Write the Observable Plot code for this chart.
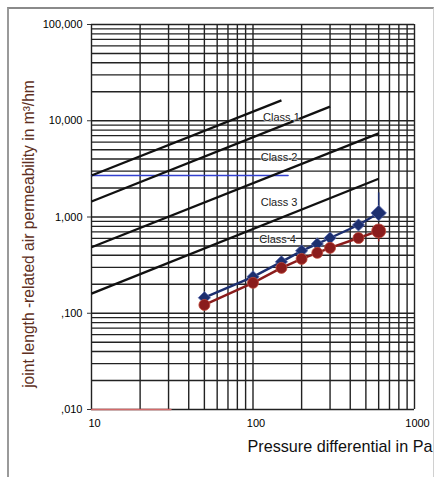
<!DOCTYPE html>
<html>
<head>
<meta charset="utf-8">
<script src="https://cdn.jsdelivr.net/npm/d3@7"></script>
<script src="https://cdn.jsdelivr.net/npm/@observablehq/plot@0.6"></script>
<style>
  html, body { margin: 0; padding: 0; background: #fff; }
  #wrap { position: relative; width: 435px; height: 477px; overflow: hidden; }
  #frame { position: absolute; left: 7px; top: 7px; width: 424px; height: 480px;
           border-left: 2px solid #9a9a9a; border-top: 2px solid #8a8a8a; border-right: 1px solid #d0d0d0; }
  svg { position: absolute; left: 0; top: 0; }
</style>
</head>
<body>
<div id="wrap"><div id="frame"></div></div>
<script>
// Measured data (pressure in Pa, permeability in m³/hm)
const pressures = [50, 100, 150, 200, 250, 300, 450, 600];
const blueValues = [0.145, 0.239, 0.342, 0.445, 0.525, 0.605, 0.826, 1.10];
const redValues  = [0.122, 0.207, 0.296, 0.367, 0.424, 0.478, 0.605, 0.716];

// Class limit lines (start/end points)
const classNames  = ["Class 1", "Class 2", "Class 3", "Class 4"];
const classStartP = [10, 10, 10, 10];
const classStartV = [2.7, 1.45, 0.485, 0.16];
const classEndP   = [150, 300, 600, 600];
const classEndV   = [16.3, 14.0, 7.4, 2.5];
const labelP      = [150, 145, 145, 142];
const labelV      = [10.9, 4.19, 1.43, 0.59];

// Grid / ticks
const xGrid = [10, 20, 30, 40, 50, 60, 70, 80, 90, 100, 200, 300, 400, 500, 600, 700, 800, 900, 1000];
const yGrid = [0.01, 0.02, 0.03, 0.04, 0.05, 0.06, 0.07, 0.08, 0.09,
               0.1, 0.2, 0.3, 0.4, 0.5, 0.6, 0.7, 0.8, 0.9,
               1, 2, 3, 4, 5, 6, 7, 8, 9,
               10, 20, 30, 40, 50, 60, 70, 80, 90, 100];
const xTicks = [10, 100, 1000];
const xTickLabels = ["10", "100", "1000"];
const yTicks = [0.01, 0.1, 1, 10, 100];
const yTickLabels = [",010", ",100", "1,000", "10,000", "100,000"];

// Stray marks visible on the scan
const blueRefP = [10, 165];
const blueRefV = [2.7, 2.7];
const redRefP = [10, 31];
const redRefV = [0.01, 0.01];
const lastP = 600;
const blueBarTop = 1.78;
const redBarBottom = 0.55;

const classSegments = classNames.map((c, i) => ({
  name: c, x1: classStartP[i], y1: classStartV[i], x2: classEndP[i], y2: classEndV[i]
}));
const classLabels = classNames.map((c, i) => ({name: c, x: labelP[i], y: labelV[i]}));
const blue = pressures.map((p, i) => ({p, v: blueValues[i]}));
const red = pressures.map((p, i) => ({p, v: redValues[i]}));
const blueMain = blue.slice(0, -1), blueLast = blue.slice(-1);
const redMain = red.slice(0, -1), redLast = red.slice(-1);

const blueColor = "#1d2f6f";
const redColor = "#8a1c1c";

const chart = Plot.plot({
  width: 435,
  height: 477,
  marginLeft: 91,
  marginRight: 21,
  marginTop: 24,
  marginBottom: 68,
  style: {fontFamily: "'Liberation Sans', Arial, sans-serif", background: "transparent"},
  x: {type: "log", domain: [10, 1000]},
  y: {type: "log", domain: [0.01, 100]},
  marks: [
    Plot.ruleX(xGrid, {stroke: "#222", strokeWidth: 1.4}),
    Plot.ruleY(yGrid, {stroke: "#222", strokeWidth: 1.4}),
    Plot.line(blueRefP.map((p, i) => ({p, v: blueRefV[i]})), {x: "p", y: "v", stroke: "#3340d0", strokeWidth: 1.4}),
    Plot.line(redRefP.map((p, i) => ({p, v: redRefV[i]})), {x: "p", y: "v", stroke: "#d46a6a", strokeWidth: 1.5}),
    Plot.link(classSegments, {x1: "x1", y1: "y1", x2: "x2", y2: "y2", stroke: "#111", strokeWidth: 2.3}),
    Plot.text(classLabels, {x: "x", y: "y", text: "name", fontSize: 11, fill: "#222",
      stroke: "white", strokeWidth: 2, strokeOpacity: 0.6, paintOrder: "stroke"}),
    Plot.ruleX([lastP], {y1: blueValues[blueValues.length - 1], y2: blueBarTop, stroke: blueColor, strokeWidth: 1.5}),
    Plot.ruleX([lastP], {y1: redValues[redValues.length - 1], y2: redBarBottom, stroke: redColor, strokeWidth: 1.5}),
    Plot.line(blue, {x: "p", y: "v", stroke: blueColor, strokeWidth: 2.4}),
    Plot.line(red, {x: "p", y: "v", stroke: redColor, strokeWidth: 2.4}),
    Plot.dot(blueMain, {x: "p", y: "v", symbol: "diamond2", r: 5.5, fill: blueColor, stroke: "#5a6ab0", strokeWidth: 0.8}),
    Plot.dot(blueLast, {x: "p", y: "v", symbol: "diamond2", r: 7, fill: blueColor, stroke: "#5a6ab0", strokeWidth: 0.8}),
    Plot.dot(redMain, {x: "p", y: "v", symbol: "circle", r: 5.5, fill: redColor, stroke: "#c04a3a", strokeWidth: 0.8}),
    Plot.dot(redLast, {x: "p", y: "v", symbol: "circle", r: 7, fill: redColor, stroke: "#c04a3a", strokeWidth: 0.8}),
    Plot.axisY(yTicks, {tickFormat: d => yTickLabels[yTicks.indexOf(d)], tickSize: 4, tickPadding: 5,
      fontSize: 11, label: null, stroke: "#333"}),
    Plot.axisX(xTicks, {tickFormat: d => xTickLabels[xTicks.indexOf(d)], tickSize: 0, tickPadding: 10,
      fontSize: 11, label: null, dx: 3}),
    Plot.text(["Pressure differential in Pa"], {frameAnchor: "bottom-right", dx: 18, dy: 37,
      lineAnchor: "middle", textAnchor: "end", fontSize: 16.2, fill: "#111"}),
    Plot.text(["joint length -related air permeability in m³/hm"], {frameAnchor: "left", rotate: -90,
      dx: -63, dy: 17, lineAnchor: "middle", textAnchor: "middle", fontSize: 15.6, fill: "#5e2f22"})
  ]
});
document.getElementById("wrap").appendChild(chart);
</script>
</body>
</html>
